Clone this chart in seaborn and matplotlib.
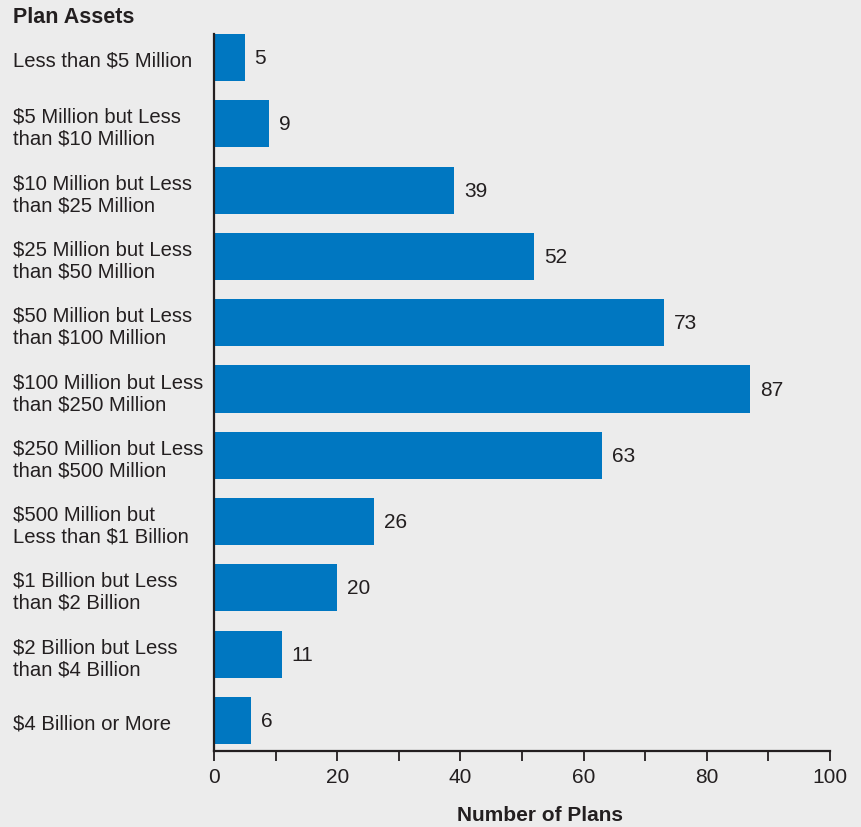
import matplotlib
matplotlib.use("Agg")
import matplotlib.pyplot as plt
import seaborn as sns
import pandas as pd
from matplotlib.ticker import MultipleLocator


# plan asset ranges and number of plans in each
categories = [
    "Less than $5 Million",
    "$5 Million but Less\nthan $10 Million",
    "$10 Million but Less\nthan $25 Million",
    "$25 Million but Less\nthan $50 Million",
    "$50 Million but Less\nthan $100 Million",
    "$100 Million but Less\nthan $250 Million",
    "$250 Million but Less\nthan $500 Million",
    "$500 Million but\nLess than $1 Billion",
    "$1 Billion but Less\nthan $2 Billion",
    "$2 Billion but Less\nthan $4 Billion",
    "$4 Billion or More",
]
num_plans = [5, 9, 39, 52, 73, 87, 63, 26, 20, 11, 6]

BAR_COLOR = "#0077c1"
BG_COLOR = "#ececec"
TEXT_COLOR = "#231f20"


def plot_plans():
    df = pd.DataFrame({"assets": categories, "plans": num_plans})

    sns.set_style("white")
    plt.rcParams["font.family"] = ["Liberation Sans", "DejaVu Sans"]

    fig = plt.figure(figsize=(8.62, 8.28), dpi=100, facecolor=BG_COLOR)
    ax = fig.add_axes([214 / 862, 1 - 752 / 828, 616 / 862, 717 / 828])
    ax.set_facecolor(BG_COLOR)

    sns.barplot(data=df, x="plans", y="assets", orient="h", color=BAR_COLOR,
                width=0.71, saturation=1, linewidth=0, ax=ax)

    ax.set_xlim(0, 100)
    ax.set_ylim(10.46, -0.355)

    ax.xaxis.set_major_locator(MultipleLocator(20))
    ax.xaxis.set_minor_locator(MultipleLocator(10))
    ax.tick_params(axis="x", which="both", bottom=True, direction="out", length=7.2,
                   width=1.3, color=TEXT_COLOR, labelsize=15, labelcolor=TEXT_COLOR, pad=4)
    ax.tick_params(axis="y", length=0, pad=144.7, labelsize=14.6, labelcolor=TEXT_COLOR)
    for lbl in ax.get_yticklabels():
        lbl.set_ha("left")
        lbl.set_linespacing(1.2)

    for side in ["top", "right"]:
        ax.spines[side].set_visible(False)
    for side in ["left", "bottom"]:
        ax.spines[side].set_color(TEXT_COLOR)
        ax.spines[side].set_linewidth(1.6)

    ax.bar_label(ax.containers[0], padding=7, fontsize=15, color=TEXT_COLOR)

    ax.set_ylabel("")
    ax.set_xlabel("Number of Plans", fontsize=15, fontweight="bold",
                  color=TEXT_COLOR, va="center")
    ax.xaxis.set_label_coords(0.53, -0.088)

    fig.text(13 / 862, 1 - 23 / 828, "Plan Assets", fontsize=15.5, fontweight="bold",
             color=TEXT_COLOR, ha="left", va="baseline")

    fig.savefig("out.png", dpi=100, facecolor=BG_COLOR)


if __name__ == "__main__":
    plot_plans()
